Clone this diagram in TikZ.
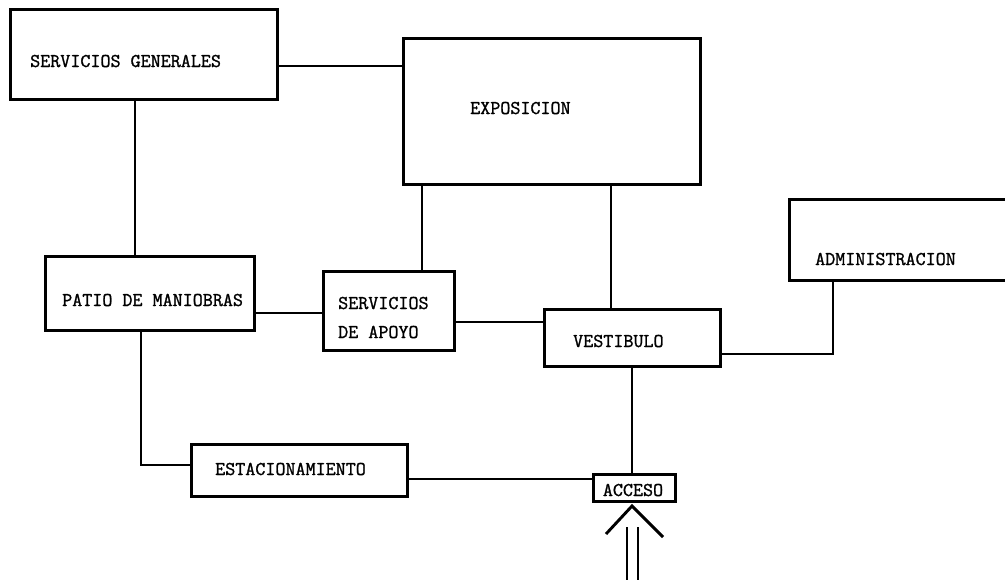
\documentclass[tikz,border=0pt]{standalone}
\usepackage{fontspec}
\newfontface\typew{Latin Modern Mono}[FakeBold=1.3]
\begin{document}
\begin{tikzpicture}[x=1pt,y=-1pt,
  box/.style={draw, line width=3.1pt, inner sep=0pt, anchor=north west},
  lbl/.style={font=\typew\fontsize{19.5}{22}\selectfont, inner sep=0pt, anchor=base west},
  link/.style={line width=2.9pt},
  thinlink/.style={line width=2.4pt}]
\useasboundingbox (0,0) rectangle (1005,579);
\fill[white] (0,0) rectangle (1005,579);
\clip (0,0) rectangle (1005,579);
% boxes
\node[box, minimum width=267pt, minimum height=90pt] (sg) at (9,8) {};
\node[box, minimum width=297pt, minimum height=146pt] (expo) at (402,37) {};
\node[box, minimum width=240pt, minimum height=81pt] (admin) at (788,198) {};
\node[box, minimum width=209pt, minimum height=74pt] (patio) at (44,255) {};
\node[box, minimum width=131pt, minimum height=79pt] (sa) at (322,270) {};
\node[box, minimum width=176pt, minimum height=57pt] (vest) at (543,308) {};
\node[box, minimum width=216pt, minimum height=52pt] (estac) at (190,443) {};
\node[box, line width=2.7pt, minimum width=82pt, minimum height=27pt] (acceso) at (592,473) {};
% labels
\node[lbl] (tsg) at (30,67) {SERVICIOS GENERALES};
\node[lbl] (texpo) at (470,114) {EXPOSICION};
\node[lbl] (tadmin) at (815,265) {ADMINISTRACION};
\node[lbl] (tpatio) at (62,306) {PATIO DE MANIOBRAS};
\node[lbl] (tsa1) at (338,309) {SERVICIOS};
\node[lbl] (tsa2) at (338,338) {DE APOYO};
\node[lbl] (tvest) at (573,347) {VESTIBULO};
\node[lbl] (testac) at (215,475) {ESTACIONAMIENTO};
\node[lbl, anchor=base] (tacceso) at (633,496) {ACCESO};
% connectors
\draw[link] (sg.east |- 0,66) -- (expo.west |- 0,66);
\draw[link] (sg.south -| 135,0) -- (patio.north -| 135,0);
\draw[link] (expo.south -| 422,0) -- (sa.north -| 422,0);
\draw[thinlink] (expo.south -| 611,0) -- (vest.north -| 611,0);
\draw[link] (patio.east |- 0,313) -- (sa.west |- 0,313);
\draw[link] (sa.east |- 0,322) -- (vest.west |- 0,322);
\draw[link] (vest.east |- 0,354) -| (admin.south -| 833,0);
\draw[link] (vest.south -| 632,0) -- (acceso.north -| 632,0);
\draw[link] (patio.south -| 141,0) |- (estac.west |- 0,465);
\draw[link] (estac.east |- 0,479) -- (acceso.west |- 0,479);
% entrance arrow
\coordinate (apex) at (632,506);
\coordinate (chl) at (606,534);
\coordinate (chr) at (663,537);
\coordinate (l1t) at (627,527);
\coordinate (l1b) at (627,585);
\coordinate (l2t) at (638,527);
\coordinate (l2b) at (638,585);
\draw[link] (chl) -- (apex) -- (chr);
\draw[link] (l1t) -- (l1b);
\draw[link] (l2t) -- (l2b);
\end{tikzpicture}
\end{document}
